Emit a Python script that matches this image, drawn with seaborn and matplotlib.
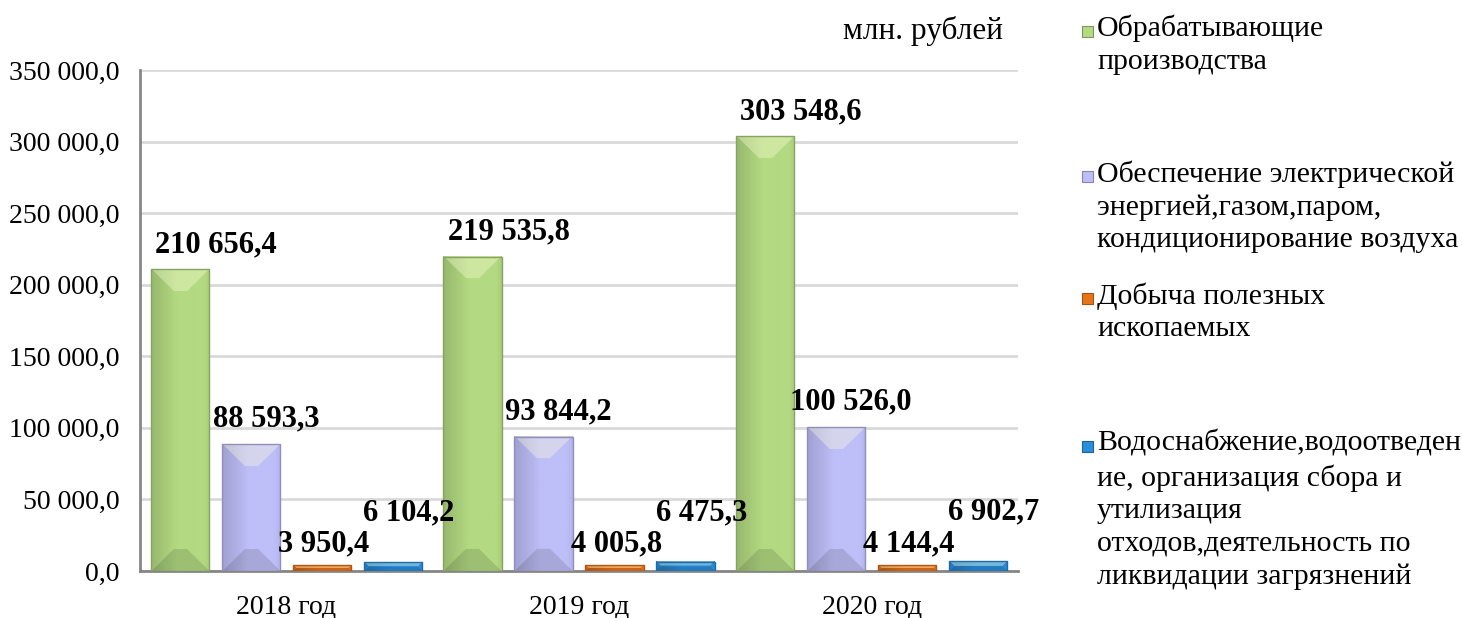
import numpy as np
import pandas as pd
import matplotlib.pyplot as plt
import seaborn as sns
from matplotlib.patches import Rectangle
from matplotlib.colors import to_rgb

# Данные (млн. рублей)
years = ["2018 год", "2019 год", "2020 год"]
branches = [
    "Обрабатывающие\nпроизводства",
    "Обеспечение электрической\nэнергией,газом,паром,\nкондиционирование воздуха",
    "Добыча полезных\nископаемых",
    "Водоснабжение,водоотведен\nие, организация сбора и\nутилизация\nотходов,деятельность по\nликвидации загрязнений",
]
manufacturing = [210656.4, 219535.8, 303548.6]
energy = [88593.3, 93844.2, 100526.0]
mining = [3950.4, 4005.8, 4144.4]
water = [6104.2, 6475.3, 6902.7]

colors = ["#B3DA82", "#BEBEF8", "#E8741A", "#2A8EDB"]

# смещения подписей в пикселях (dx, dy) для каждой серии
label_offsets = [(36, 25), (15, 25), (2, 21), (16, 49)]
# позиции легенды (y центра первой строки, px)
legend_y = [31, 176, 298, 446]

df = pd.DataFrame({
    "year": np.repeat(years, 4),
    "branch": branches * 3,
    "value": [v for row in zip(manufacturing, energy, mining, water) for v in row],
})

sns.set_theme(style="white")
plt.rcParams["font.family"] = ["Liberation Serif", "DejaVu Serif"]
plt.rcParams["text.color"] = "black"
plt.rcParams["xtick.color"] = "black"
plt.rcParams["ytick.color"] = "black"

W, H = 1462, 618
fig = plt.figure(figsize=(W / 100, H / 100), dpi=100)
ax = fig.add_axes([140 / W, 1 - 571 / H, (1018 - 140) / W, (571 - 70) / H])

sns.barplot(data=df, x="year", y="value", hue="branch", order=years,
            hue_order=branches, palette=colors, width=0.97, gap=0.18,
            ax=ax, legend=False, saturation=1, zorder=3)

ax.set_xlim(-0.5, 2.5)
ax.set_ylim(0, 350000)
ax.set_yticks(np.arange(0, 350001, 50000))
ax.set_yticklabels([f"{v:,.1f}".replace(",", " ").replace(".", ",")
                    for v in np.arange(0, 350001, 50000)], fontsize=20)
ax.set_xticks(range(3))
ax.set_xticklabels(years, fontsize=20)
ax.set_xticks([-0.5, 0.5, 1.5, 2.5], minor=True)
ax.tick_params(axis="x", which="major", length=0, pad=17)
ax.tick_params(axis="x", which="minor", length=7, width=1.5, color="#868686", direction="out")
ax.tick_params(axis="y", length=0, pad=15)
ax.set_xlabel("")
ax.set_ylabel("")
ax.grid(axis="y", color="#D9D9D9", linewidth=2, zorder=0)
ax.set_axisbelow(True)
for s in ["top", "right"]:
    ax.spines[s].set_visible(False)
for s in ["left", "bottom"]:
    ax.spines[s].set_color("#868686")
    ax.spines[s].set_linewidth(2)

# объёмный эффект столбцов
fig.canvas.draw()
to_px = ax.transData
for k, cont in enumerate(ax.containers):
    base = np.array(to_rgb(colors[k]))
    for bar in cont:
        x0, y0 = bar.get_x(), bar.get_y()
        x1, y1 = x0 + bar.get_width(), y0 + bar.get_height()
        (px0, py0), (px1, py1) = to_px.transform([(x0, y0), (x1, y1)])
        wpx, hpx = max(int(round(px1 - px0)), 2), max(int(round(py1 - py0)), 2)
        xx = (np.arange(wpx) + 0.5)
        yy = (np.arange(hpx) + 0.5)[:, None]
        xf = xx / wpx
        shade = 0.84 + 0.16 * np.clip(xf / 0.45, 0, 1) - 0.06 * np.clip((xf - 0.9) / 0.1, 0, 1)
        img = base[None, None, :] * shade[None, :, None] * np.ones((hpx, 1, 1))
        b = min(22, hpx / 2)
        top = (yy < b) & (yy < xx) & (yy < wpx - xx)
        ybot = hpx - yy
        bot = (ybot < b) & (ybot < xx) & (ybot < wpx - xx)
        img = np.where(top[..., None], img * 0.65 + np.array([1.0, 1.0, 0.85]) * 0.35, img)
        img = np.where(bot[..., None], img * 0.88, img)
        img = np.clip(img, 0, 1)
        ax.imshow(img, extent=(x0, x1, y0, y1), origin="upper", aspect="auto",
                  interpolation="bilinear", zorder=3)
        bar.set_facecolor("none")
        bar.set_edgecolor(base * 0.75)
        bar.set_linewidth(1)
        bar.set_zorder(4)
ax.set_xlim(-0.5, 2.5)
ax.set_ylim(0, 350000)

# подписи значений
for k, cont in enumerate(ax.containers):
    dx, dy = label_offsets[k]
    for bar in cont:
        v = bar.get_height()
        txt = f"{v:,.1f}".replace(",", " ").replace(".", ",")
        ax.annotate(txt, (bar.get_x() + bar.get_width() / 2, v),
                    xytext=(dx, dy), textcoords="offset pixels",
                    ha="center", va="center", fontsize=22,
                    fontweight="bold", zorder=6)

fig.text(1003 / W, 1 - 31 / H, "млн. рублей", fontsize=22.5, ha="right", va="center")

# легенда
for k, lab in enumerate(branches):
    yc = legend_y[k]
    fig.add_artist(Rectangle((1082 / W, 1 - (yc + 6) / H), 11 / W, 11 / H,
                             transform=fig.transFigure, facecolor=colors[k],
                             edgecolor=np.array(to_rgb(colors[k])) * 0.7, lw=0.8))
    fig.text(1097 / W, 1 - (yc - 16) / H, lab, fontsize=21.5, ha="left",
             va="top", linespacing=1.33)

fig.savefig("out.png", dpi=100)
